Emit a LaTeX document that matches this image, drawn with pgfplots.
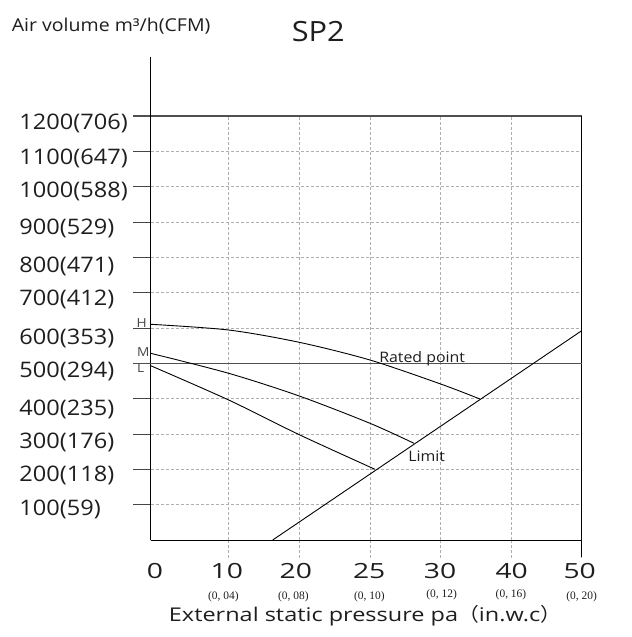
\documentclass[border=0pt]{standalone}
\usepackage{pgfplots}
\pgfplotsset{compat=1.18}
\usepackage{fontspec}
\setmainfont[FakeStretch=1.1]{Open Sans}
\newfontfamily\xtfont[FakeStretch=1.35]{Open Sans}
\newfontfamily\xlabfont[FakeStretch=1.24]{Open Sans}
\newfontfamily\cjk[FakeStretch=1.1]{Noto Sans CJK SC}
\newfontfamily\subfont{Liberation Serif}
\definecolor{gridgray}{RGB}{175,175,175}
\definecolor{tickgray}{RGB}{70,70,70}
\definecolor{linegray}{RGB}{80,80,80}
\definecolor{txt}{RGB}{30,30,30}
\begin{document}
\begin{tikzpicture}
\path[use as bounding box] (-150.7bp,-97bp) rectangle (481.3bp,540bp);
\begin{axis}[
  at={(0,0)}, anchor=origin,
  x=1bp, y=0.353333bp,
  xmin=0, xmax=431, ymin=0, ymax=1200,
  clip=false,
  axis line style={draw=none},
  xtick={78,148.6,219.3,290,360.3,431},
  ytick={100,200,...,1200},
  xticklabels={}, yticklabels={},
  xtick pos=left, ytick pos=left,
  tick align=outside,
  major tick length=17.5bp,
  xmajorgrids, ymajorgrids,
  major grid style={gridgray, dash pattern=on 3bp off 2bp, line width=0.6bp},
  xtick style={gridgray, dash pattern=on 3bp off 2bp, line width=0.6bp},
  ytick style={tickgray, solid, line width=1bp},
]
% frame
\draw[linegray, line width=1.3bp] (axis cs:-17.5,1200) -- (axis cs:431,1200);
\draw[black, line width=0.9bp] (axis cs:0,0) -- (axis cs:0,1367);
\draw[black, line width=0.9bp] (axis cs:0,0) -- (axis cs:431,0);
\draw[black, line width=0.9bp] (axis cs:431,-48) -- (axis cs:431,1200);
% rated line
\addplot[linegray, line width=1.3bp] coordinates {(-17.5,500) (431,500)};
% H, M, L curves
\addplot[black, line width=0.9bp, smooth, tension=0.5] coordinates {(0,610.5) (78,594.3) (148.6,559.5) (219.3,509.4) (290,441.5) (329.3,399)};
\addplot[black, line width=0.9bp, smooth, tension=0.5] coordinates {(0,528.4) (78,471.8) (148.6,407.5) (219.3,330.3) (263.3,273.7)};
\addplot[black, line width=0.9bp, smooth, tension=0.5] coordinates {(0,493.3) (78,396.2) (148.6,298) (224.3,200.1)};
% limit line
\addplot[black, line width=0.9bp] coordinates {(122,0) (431,592.4)};
% labels on curves
\node[anchor=base, font=\fontsize{14.5}{16}\selectfont, text=txt, inner sep=0pt] at (axis cs:271.5,503) {Rated point};
\node[anchor=base, font=\fontsize{14.5}{16}\selectfont, text=txt, inner sep=0pt] at (axis cs:276,221.6) {Limit};
\node[font=\fontsize{12.5}{14}\selectfont, text=tickgray, inner sep=0pt] at (axis cs:-9,613.3) {H};
\node[font=\fontsize{12.5}{14}\selectfont, text=tickgray, inner sep=0pt] at (axis cs:-7.4,531.2) {M};
\node[font=\fontsize{12.5}{14}\selectfont, text=tickgray, inner sep=0pt] at (axis cs:-10,486) {L};
% y tick labels
\begin{scope}[every node/.style={anchor=base west, inner sep=0pt, text=txt, font=\fontsize{21.5}{24}\selectfont}]
\node at (axis cs:-131.4,1162.3) {1200(706)};
\node at (axis cs:-131.4,1063.3) {1100(647)};
\node at (axis cs:-131.4,968.2) {1000(588)};
\node at (axis cs:-131.4,865.2) {900(529)};
\node at (axis cs:-131.4,756.8) {800(471)};
\node at (axis cs:-131.4,662.5) {700(412)};
\node at (axis cs:-131.4,553.9) {600(353)};
\node at (axis cs:-131.4,459.6) {500(294)};
\node at (axis cs:-131.4,351.2) {400(235)};
\node at (axis cs:-131.4,258.7) {300(176)};
\node at (axis cs:-131.4,165.3) {200(118)};
\node at (axis cs:-131.4,68.2) {100(59)};
\end{scope}
% x tick labels
\begin{scope}[every node/.style={anchor=base, inner sep=0pt, text=txt, font=\xtfont\fontsize{21}{24}\selectfont}]
\node at (axis cs:4.3,-108.5) {0};
\node at (axis cs:76.1,-108.5) {10};
\node at (axis cs:145.1,-108.5) {20};
\node at (axis cs:218.5,-108.5) {25};
\node at (axis cs:289.3,-108.5) {30};
\node at (axis cs:361,-108.5) {40};
\node at (axis cs:429,-108.5) {50};
\end{scope}
\begin{scope}[every node/.style={inner sep=0pt, text=txt, font=\subfont\fontsize{11.5}{13}\selectfont}]
\node at (axis cs:72.6,-160.5) {(0, 04)};
\node at (axis cs:142.6,-160.5) {(0, 08)};
\node at (axis cs:218.6,-160.5) {(0, 10)};
\node at (axis cs:291,-155.7) {(0, 12)};
\node at (axis cs:360.3,-155.7) {(0, 16)};
\node at (axis cs:431,-160.5) {(0, 20)};
\end{scope}
% titles
\node[anchor=base, inner sep=0pt, text=txt, font=\xlabfont\fontsize{19}{22}\selectfont] at (axis cs:214.3,-229.3) {External static pressure pa{\cjk （}in.w.c{\cjk ）}};
\node[anchor=base west, inner sep=0pt, text=txt, font=\fontsize{17.8}{20}\selectfont] at (axis cs:-139,1438.6) {Air volume m³/h(CFM)};
\node[anchor=base west, inner sep=0pt, text=txt, font=\fontsize{28}{32}\selectfont] at (axis cs:141,1410.3) {SP2};
\end{axis}
\end{tikzpicture}
\end{document}
